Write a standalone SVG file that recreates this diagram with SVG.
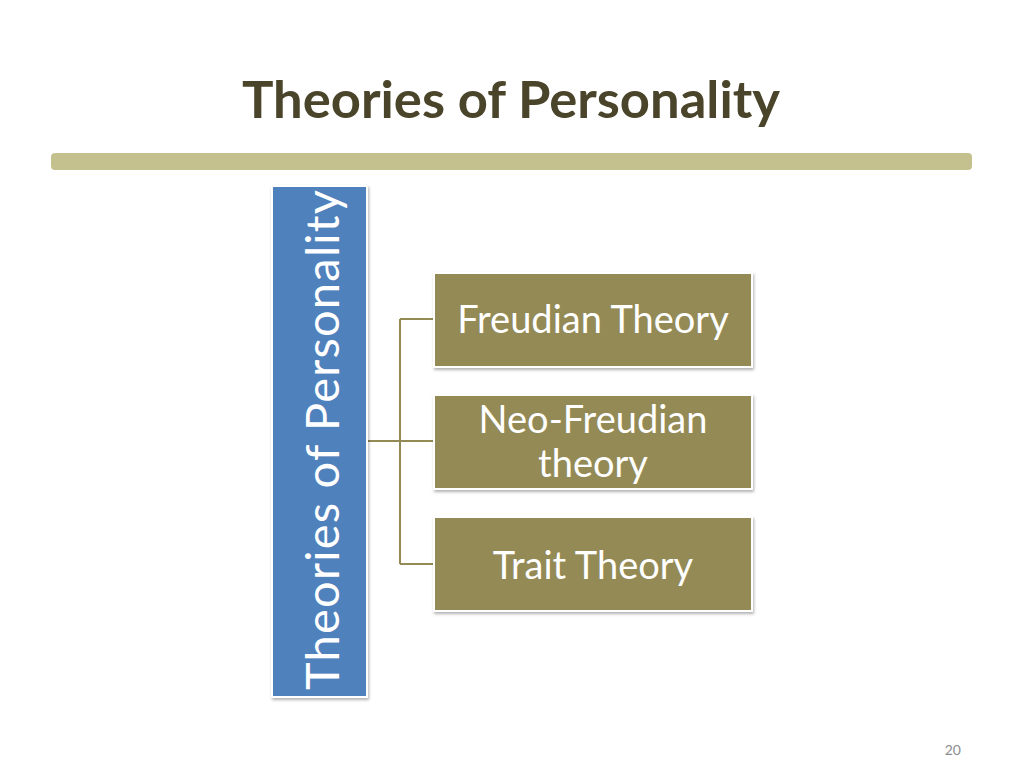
<svg xmlns="http://www.w3.org/2000/svg" width="1024" height="768" viewBox="0 0 1024 768">
<defs>
<filter id="sh" x="-10%" y="-10%" width="120%" height="120%">
<feDropShadow dx="1" dy="2" stdDeviation="1.5" flood-color="#000" flood-opacity="0.3"/>
</filter>
<style>
.lbl{font-family:Lato,"Open Sans","Liberation Sans",sans-serif;fill:#fff;font-size:38px;text-anchor:middle}
.box{fill:#948A54;stroke:#fff;stroke-width:2;filter:url(#sh)}
.con{fill:none;stroke:#948A54;stroke-width:2}
</style>
</defs>
<rect width="1024" height="768" fill="#fff"/>
<text x="511" y="118" font-family="Lato,'Open Sans','Liberation Sans',sans-serif" font-weight="bold" font-size="52" fill="#4A452A" text-anchor="middle" textLength="538" lengthAdjust="spacingAndGlyphs">Theories of Personality</text>
<rect x="51" y="153" width="921" height="17" rx="4" fill="#C4C18F"/>
<g id="connectors">
<path class="con" d="M367 441 H400 M400 319 V564 M400 319 H435 M400 441 H435 M400 564 H435"/>
</g>
<g id="root">
<rect x="272" y="186" width="95" height="511" fill="#4F81BD" stroke="#fff" stroke-width="2" filter="url(#sh)"/>
<text transform="translate(339 440) rotate(-90)" font-family="Lato,'Open Sans','Liberation Sans',sans-serif" font-size="47" fill="#fff" text-anchor="middle" textLength="500" lengthAdjust="spacing">Theories of Personality</text>
</g>
<g id="n1">
<rect class="box" x="434" y="273" width="318" height="94"/>
<text class="lbl" x="593" y="333">Freudian Theory</text>
</g>
<g id="n2">
<rect class="box" x="434" y="395" width="318" height="94"/>
<text class="lbl" x="593" y="433">Neo-Freudian</text>
<text class="lbl" x="593" y="477">theory</text>
</g>
<g id="n3">
<rect class="box" x="434" y="517" width="318" height="94"/>
<text class="lbl" x="593" y="579">Trait Theory</text>
</g>
<text x="961" y="755" font-family="Lato,'Liberation Sans',sans-serif" font-size="14" fill="#8C8C8C" text-anchor="end">20</text>
</svg>
